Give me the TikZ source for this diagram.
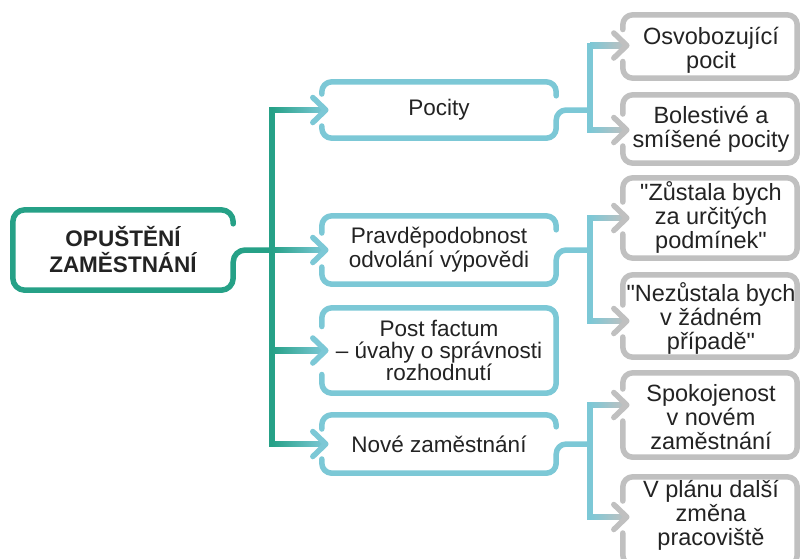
\documentclass[tikz,border=0pt]{standalone}
\usepackage{fontspec}
\setmainfont{Liberation Sans}[Ligatures=TeXOff]
\usetikzlibrary{calc}

\definecolor{rootc}{RGB}{38,161,135}
\definecolor{midc}{RGB}{124,200,214}
\definecolor{leafc}{RGB}{192,192,192}
\definecolor{ink}{RGB}{35,35,35}

\tikzset{
  lbl/.style={inner sep=0pt, align=center, text=ink, font=\fontsize{22.5}{24}\selectfont},
  leaflbl/.style={lbl, font=\fontsize{23.5}{24}\selectfont},
  rootbox/.style={lbl, font=\bfseries\fontsize{22.5}{26}\selectfont, minimum width=220pt, minimum height=80pt},
  midbox/.style={lbl, minimum width=234pt},
  leafbox/.style={lbl, minimum width=174pt},
  wire/.style={line width=5.5pt, line cap=round, line join=round},
  rootwire/.style={wire, draw=rootc, rounded corners=12pt},
  midwire/.style={wire, draw=midc, rounded corners=10pt},
  leafwire/.style={wire, draw=leafc, rounded corners=10pt},
  trunkwire/.style={line width=5.5pt, line cap=rect},
}

% frame of a middle box: gap on the left for the arrow, short stub top right,
% lower right side turning into the outgoing connector
\newcommand\midframe[4]{%
  \draw[midwire] ($(#1.west)+(0,-#2)$) -- (#1.north west) -- (#1.north east) -- ($(#1.north east)+(0,#3)$);
  \draw[midwire] ($(#1.west)+(0,#2)$) -- (#1.south west) -- (#1.south east) -- (#1.east) -- (#4);
}
% frame of a leaf box, open around the arrow point #2
\newcommand\leafframe[2]{%
  \draw[leafwire] ($(#2)+(0,-16)$) -- (#1.north west) -- (#1.north east) -- (#1.south east) -- (#1.south west) -- ($(#2)+(0,16)$);
}
% shaded arrow shaft from #1 to the tip #2, colours #3 -> #4
\newcommand\branch[4]{%
  \shade[left color=#3, right color=#4] ($(#1)+(0,-2.75)$) rectangle ($(#2)+(-1.5,2.75)$);
  \draw[wire, draw=#4] ($(#2)+(-13,-12.5)$) -- (#2) -- ($(#2)+(-13,12.5)$);
}

\begin{document}
\begin{tikzpicture}[x=1pt,y=-1pt]
\clip (0,0) rectangle (800,558);
\fill[white] (0,0) rectangle (800,558);

% boxes
\node[rootbox] (root) at (123,250) {OPUŠTĚNÍ\\ZAMĚSTNÁNÍ};
\node[midbox, minimum height=56pt] (pocity) at (439,110) {Pocity};
\node[midbox, minimum height=68pt] (pravd) at (439,250) {Pravděpodobnost\\odvolání výpovědi};
\node[midbox, minimum height=85pt, font=\fontsize{22.5}{22}\selectfont] (post) at (439,350.5) {Post factum\\– úvahy o správnosti\\rozhodnutí};
\node[midbox, minimum height=58pt] (nove) at (439,444) {Nové zaměstnání};

\node[leafbox, minimum height=63pt] (l1) at (710,46.5) {};
\node[leaflbl] (l1t) at ($(l1)+(1,4)$) {Osvobozující\\pocit};
\node[leafbox, minimum height=68pt] (l2) at (710,129) {};
\node[leaflbl] (l2t) at ($(l2)+(1,0)$) {Bolestivé a\\smíšené pocity};
\node[leafbox, minimum height=80pt] (l3) at (710,218) {};
\node[leaflbl] (l3t) at ($(l3)+(1,-1)$) {"Zůstala bych\\za určitých\\podmínek"};
\node[leafbox, minimum height=82pt] (l4) at (710,316) {};
\node[leaflbl] (l4t) at ($(l4)+(1,2)$) {"Nezůstala bych\\v žádném\\případě"};
\node[leafbox, minimum height=84pt] (l5) at (710,415) {};
\node[leaflbl] (l5t) at ($(l5)+(1,2)$) {Spokojenost\\v novém\\zaměstnání};
\node[leafbox, minimum height=88pt] (l6) at (710,521) {};
\node[leaflbl] (l6t) at ($(l6)+(1,-6)$) {V plánu další\\změna\\pracoviště};

% junction points
\coordinate (trunk) at (272,250);
\coordinate (gx) at (590,0);
\coordinate (c1) at (gx |- pocity.east);
\coordinate (c2) at (gx |- pravd.east);
\coordinate (c3) at (gx |- nove.east);
\coordinate (rj) at (trunk |- root.east);

% arrow points on the left side of each box
\coordinate (p1) at (pocity.west);
\coordinate (p2) at (pravd.west);
\coordinate (p3) at (post.west);
\coordinate (p4) at (nove.west);
\coordinate (a1) at ($(l1.west)+(0,-1)$);
\coordinate (a2) at ($(l2.west)+(0,1)$);
\coordinate (a3) at (l3.west);
\coordinate (a4) at ($(l4.west)+(0,5)$);
\coordinate (a5) at ($(l5.west)+(0,-10)$);
\coordinate (a6) at ($(l6.west)+(0,-4)$);

% frames
\draw[rootwire] ($(root.north east)+(0,14)$) -- (root.north east) -- (root.north west) -- (root.south west) -- (root.south east) -- (root.east) -- (rj);
\midframe{pocity}{16}{14}{c1}
\midframe{pravd}{17}{14}{c2}
\draw[midwire] ($(post.west)+(0,-24)$) -- (post.north west) -- (post.north east) -- (post.south east) -- (post.south west) -- ($(post.west)+(0,24)$);
\midframe{nove}{15}{12}{c3}
\leafframe{l1}{a1}
\leafframe{l2}{a2}
\leafframe{l3}{a3}
\leafframe{l4}{a4}
\leafframe{l5}{a5}
\leafframe{l6}{a6}

% trunk and first-level arrows
\draw[trunkwire, rootc] (trunk |- p1) -- (trunk |- p4);
\branch{trunk |- p1}{$(p1)+(4,0)$}{rootc}{midc}
\branch{trunk |- p2}{$(p2)+(4,0)$}{rootc}{midc}
\branch{trunk |- p3}{$(p3)+(4,0)$}{rootc}{midc}
\branch{trunk |- p4}{$(p4)+(4,0)$}{rootc}{midc}

% second-level forks
\draw[trunkwire, midc] (gx |- a1) -- (gx |- a2);
\draw[trunkwire, midc] (gx |- a3) -- (gx |- a4);
\draw[trunkwire, midc] (gx |- a5) -- (gx |- a6);
\branch{gx |- a1}{$(a1)+(4,0)$}{midc}{leafc}
\branch{gx |- a2}{$(a2)+(4,0)$}{midc}{leafc}
\branch{gx |- a3}{$(a3)+(4,0)$}{midc}{leafc}
\branch{gx |- a4}{$(a4)+(4,0)$}{midc}{leafc}
\branch{gx |- a5}{$(a5)+(4,0)$}{midc}{leafc}
\branch{gx |- a6}{$(a6)+(4,0)$}{midc}{leafc}
\end{tikzpicture}
\end{document}
